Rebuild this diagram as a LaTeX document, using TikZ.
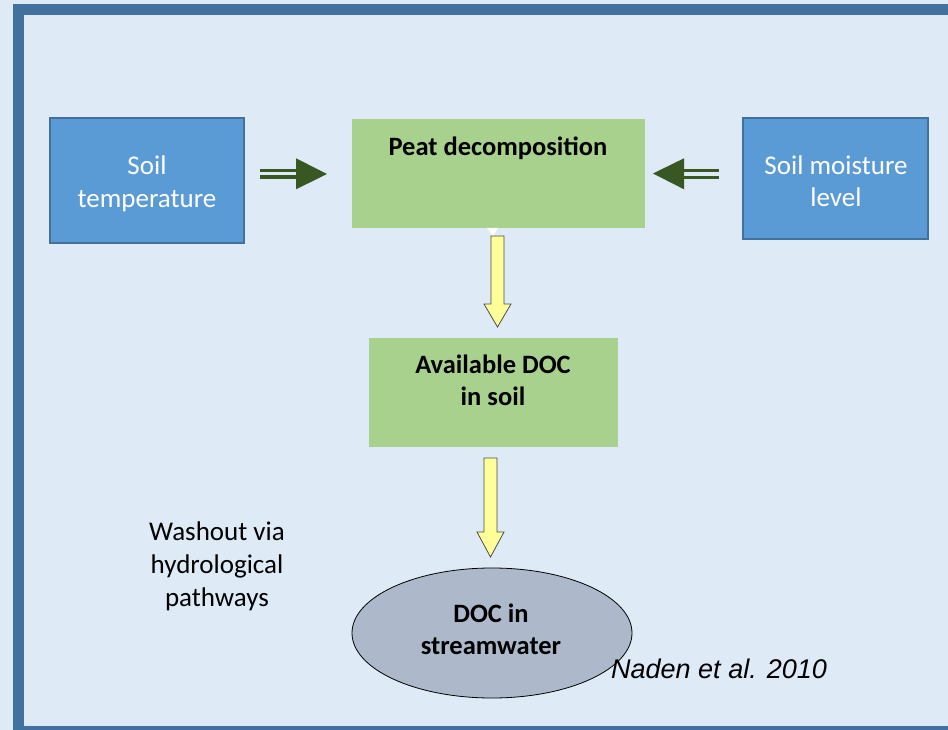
\documentclass[tikz,border=0pt]{standalone}
\usepackage{fontspec}
\setmainfont{Carlito}
\newfontfamily\arialfont{Liberation Sans}
\usetikzlibrary{shapes.geometric}
\definecolor{bgblue}{HTML}{DEEAF6}
\definecolor{framecol}{HTML}{41719C}
\definecolor{boxblue}{HTML}{5B9BD5}
\definecolor{boxgreen}{HTML}{A9D18E}
\definecolor{ellgray}{HTML}{ADB9CA}
\definecolor{arrowyellow}{HTML}{FFFF99}
\definecolor{arrowgreen}{HTML}{385723}
\tikzset{
  bluebox/.style={rectangle, fill=boxblue, draw=framecol, line width=2pt, inner sep=0pt},
  greenbox/.style={rectangle, fill=boxgreen, draw=none, inner sep=0pt},
  boxtext/.style={inner sep=0pt, align=center, font=\fontsize{27}{32.5}\selectfont},
  whitetext/.style={boxtext, text=white},
  boldtext/.style={inner sep=0pt, align=center, font=\fontsize{26.5}{32}\selectfont\bfseries},
  yarrow/.style={fill=arrowyellow, draw=black!70, line width=0.8pt, line join=miter},
  garrow/.style={fill=arrowgreen, draw=none},
}
\begin{document}
\begin{tikzpicture}[x=1pt, y=-1pt]
\useasboundingbox (0,0) rectangle (948,730);
\clip (0,0) rectangle (948,730);
\fill[bgblue] (0,0) rectangle (948,730);
\draw[framecol, line width=11pt] (18.5,9.5) rectangle (975,731.5);

% boxes
\node[bluebox, minimum width=194pt, minimum height=125pt] (soiltemp) at (147,180.5) {};
\node[whitetext, anchor=base] (soiltemptext) at (147,207.5) {Soil\\temperature};

\node[bluebox, minimum width=185pt, minimum height=121pt] (moist) at (835.5,178.5) {};
\node[whitetext, anchor=base] (moisttext) at (836,207) {Soil moisture\\level};

\node[greenbox, minimum width=293pt, minimum height=109pt] (peat) at (498.5,173.5) {};
\node[boldtext, anchor=base] (peattext) at (498,156) {Peat decomposition};

\node[greenbox, minimum width=249pt, minimum height=109pt] (avail) at (493.5,392.5) {};
\node[boldtext, anchor=base] (availtext) at (493,405.5) {Available DOC\\in soil};

\node[ellipse, fill=ellgray, draw=black, line width=0.8pt, minimum width=280pt, minimum height=130pt, inner sep=0pt] (stream) at (492,633) {};
\node[boldtext, anchor=base] (streamtext) at (491,654.5) {DOC in\\streamwater};

\node[boxtext, anchor=base, font=\fontsize{27}{33}\selectfont] (washout) at (217,606) {Washout via\\hydrological\\pathways};

\node[inner sep=0pt, anchor=base west, font=\arialfont\itshape\fontsize{27}{32}\selectfont] (naden) at (611,678) {Naden et al. 2010};

% small white wedge under peat box
\fill[white] (487,228) -- (498,228) -- (493,236) -- cycle;

% yellow block arrows
\draw[yarrow] (491,236) -- (504,236) -- (504,304) -- (511,304) -- (497.5,327) -- (484,304) -- (491,304) -- cycle;
\draw[yarrow] (484,458) -- (497,458) -- (497,532) -- (504,532) -- (490.5,557) -- (477,532) -- (484,532) -- cycle;

% green double arrows
\fill[garrow] (260,168.7) rectangle (297,172.3);
\fill[garrow] (260,175.4) rectangle (297,179);
\fill[garrow] (296,158.3) -- (327,174) -- (296,189.3) -- cycle;

\fill[garrow] (683,168.9) rectangle (719,172.5);
\fill[garrow] (683,175.9) rectangle (719,179.4);
\fill[garrow] (684,158.3) -- (653,173.5) -- (684,189.3) -- cycle;
\end{tikzpicture}
\end{document}
